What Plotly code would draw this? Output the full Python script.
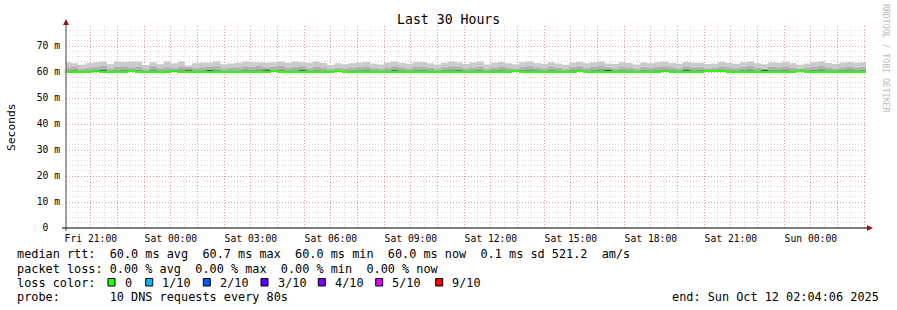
import plotly.graph_objects as go
import pandas as pd

# ---------------- data ----------------
bin_start = "2025-10-10 20:00:00"
n_bins = 113
bin_minutes = 16
range_start = "2025-10-10 20:04:06"
range_end = "2025-10-12 02:04:06"

# light smoke top (ms)
smoke_top = [63.8, 63.4, 62.8, 63.4, 63.8, 64.0, 63.0, 64.0, 63.9, 64.0, 64.0, 62.7, 63.8, 63.0, 64.0, 63.4, 64.0, 62.5, 63.4, 63.7,
             63.7, 64.0, 63.0, 63.3, 63.6, 64.0, 63.8, 63.8, 63.6, 63.8, 64.0, 63.6, 64.0, 63.8, 63.6, 64.0, 63.6, 62.7, 63.4, 63.0,
             63.4, 63.7, 63.9, 63.3, 62.9, 63.7, 64.0, 63.5, 63.2, 63.8, 63.9, 63.4, 62.9, 63.6, 64.0, 63.8, 63.1, 63.7, 64.0, 62.9,
             63.6, 63.9, 63.4, 63.0, 63.8, 64.0, 63.5, 63.2, 63.8, 63.3, 62.8, 63.7, 63.9, 63.4, 63.8, 64.0, 63.3, 63.1, 63.8, 63.5,
             62.9, 63.7, 63.4, 63.8, 64.0, 63.5, 63.2, 63.9, 63.6, 63.6, 63.1, 63.3, 63.9, 63.5, 63.2, 63.8, 64.0, 63.4, 63.0, 63.8,
             63.6, 64.0, 63.4, 62.8, 63.3, 63.8, 64.1, 63.5, 63.1, 63.7, 63.9, 63.6, 63.8]
# mid smoke top (ms)
smoke_mid = [61.6, 62.0, 61.2, 61.5, 61.8, 62.2, 61.3, 61.9, 62.0, 61.6, 61.9, 61.0, 62.2, 61.4, 61.7, 61.5, 62.0, 61.8, 61.4, 61.7,
             61.9, 62.1, 61.3, 61.5, 61.6, 62.0, 61.8, 62.2, 61.6, 61.9, 62.3, 61.5, 61.8, 62.1, 61.4, 61.9, 61.7, 61.2, 61.5, 61.3,
             61.6, 61.8, 62.0, 61.4, 61.2, 61.7, 62.1, 61.6, 61.3, 61.9, 62.0, 61.5, 61.1, 61.7, 62.1, 61.9, 61.3, 61.6, 62.0, 61.2,
             61.7, 62.0, 61.5, 61.2, 61.8, 62.2, 61.6, 61.4, 61.9, 61.5, 61.1, 61.8, 62.0, 61.4, 61.9, 62.2, 61.6, 61.3, 61.8, 61.6,
             61.2, 61.8, 61.5, 61.9, 62.1, 61.7, 61.3, 62.0, 61.6, 61.7, 61.3, 61.5, 62.0, 61.6, 61.4, 61.8, 62.2, 61.5, 61.2, 61.9,
             61.7, 62.1, 61.5, 61.0, 61.5, 61.8, 62.3, 61.6, 61.3, 61.7, 62.0, 61.6, 61.9]
# dark smoke top (ms)
smoke_dark = [60.6, 60.9, 60.4, 60.5, 60.8, 61.0, 60.5, 60.7, 60.9, 60.6, 60.7, 60.4, 61.0, 60.5, 60.6, 60.7, 60.9, 61.1, 60.5, 60.6,
              60.9, 60.8, 60.4, 60.6, 60.5, 60.9, 60.7, 61.0, 61.1, 60.8, 60.9, 60.5, 60.6, 61.0, 60.5, 60.7, 60.6, 60.4, 60.6, 60.5,
              60.6, 60.7, 60.9, 60.5, 60.4, 60.6, 61.0, 60.7, 60.5, 60.8, 60.9, 60.6, 60.4, 60.7, 60.9, 60.8, 60.5, 60.6, 60.9, 60.4,
              60.7, 60.9, 60.6, 60.4, 60.8, 61.0, 60.7, 60.5, 60.8, 60.6, 60.4, 60.7, 60.9, 60.5, 60.8, 61.0, 61.1, 60.5, 60.8, 60.6,
              60.4, 60.7, 60.6, 60.8, 61.0, 60.7, 60.5, 61.1, 60.7, 60.8, 60.5, 60.6, 60.9, 60.7, 60.5, 60.8, 61.0, 60.6, 61.0, 60.8,
              60.7, 61.0, 60.6, 60.5, 60.6, 60.8, 61.1, 60.7, 60.5, 60.8, 60.9, 60.6, 60.8]
# darkest smoke patches (ms; 60.0 = none)
smoke_darkest = [60.0, 60.0, 60.0, 60.0, 60.0, 60.7, 60.0, 60.0, 60.0, 60.0, 60.0, 60.0, 60.0, 60.0, 60.0, 60.0, 60.0, 60.6, 60.0, 60.0,
                 60.8, 60.0, 60.0, 60.0, 60.0, 60.0, 60.0, 60.0, 60.7, 60.0, 60.0, 60.0, 60.0, 60.7, 60.0, 60.0, 60.0, 60.0, 60.0, 60.0,
                 60.0, 60.0, 60.0, 60.0, 60.0, 60.0, 60.6, 60.0, 60.0, 60.0, 60.0, 60.0, 60.0, 60.0, 60.0, 60.6, 60.0, 60.0, 60.0, 60.0,
                 60.0, 60.0, 60.0, 60.0, 60.0, 60.0, 60.0, 60.0, 60.0, 60.0, 60.0, 60.0, 60.0, 60.0, 60.0, 60.0, 60.8, 60.0, 60.0, 60.0,
                 60.0, 60.0, 60.0, 60.0, 60.0, 60.0, 60.0, 60.7, 60.0, 60.0, 60.0, 60.0, 60.0, 60.0, 60.0, 60.0, 60.0, 60.0, 60.8, 60.0,
                 60.0, 60.0, 60.0, 60.5, 60.0, 60.0, 60.0, 60.0, 60.0, 60.0, 60.0, 60.0, 60.0]
# smoke bottom (min rtt, ms)
smoke_min = [60.0] * 103 + [60.3] + [60.0] * 9
# median rtt (ms)
median = [60.0, 60.0, 60.0, 60.0, 60.4, 60.0, 60.0, 60.0, 60.0, 60.4, 60.0, 60.0, 60.0, 60.0, 60.0, 60.4, 60.0, 60.0, 60.0, 60.0,
          60.0, 60.0, 60.0, 60.0, 60.0, 60.0, 60.0, 60.0, 60.0, 60.4, 60.0, 60.0, 60.0, 60.0, 60.0, 60.0, 60.0, 60.0, 60.4, 60.0,
          60.0, 60.0, 60.0, 60.0, 60.0, 60.0, 60.0, 60.0, 60.0, 60.0, 60.0, 60.0, 60.0, 60.0, 60.0, 60.0, 60.0, 60.0, 60.0, 60.0,
          60.0, 60.0, 60.0, 60.4, 60.0, 60.0, 60.0, 60.0, 60.0, 60.0, 60.0, 60.0, 60.4, 60.0, 60.0, 60.0, 60.0, 60.0, 60.0, 60.0,
          60.0, 60.0, 60.0, 60.0, 60.4, 60.0, 60.0, 60.0, 60.0, 60.0, 60.4, 60.4, 60.4, 60.0, 60.0, 60.0, 60.0, 60.0, 60.0, 60.0,
          60.0, 60.0, 60.0, 60.7, 60.0, 60.0, 60.0, 60.0, 60.0, 60.0, 60.0, 60.0, 60.0]
median_halfwidth = 0.38

hour_ticks_start = "2025-10-10 21:00:00"
n_hour_ticks = 30
tick_labels = ["Fri 21:00", "Sat 00:00", "Sat 03:00", "Sat 06:00", "Sat 09:00",
               "Sat 12:00", "Sat 15:00", "Sat 18:00", "Sat 21:00", "Sun 00:00"]
y_tick_vals = [0, 10, 20, 30, 40, 50, 60, 70]
y_tick_text = ["0\u00a0\u00a0", "10\u00a0m", "20\u00a0m", "30\u00a0m", "40\u00a0m", "50\u00a0m", "60\u00a0m", "70\u00a0m"]
y_max = 77.7

title = "Last 30 Hours"
line_rtt = "median rtt:  60.0 ms avg  60.7 ms max  60.0 ms min  60.0 ms now  0.1 ms sd 521.2  am/s"
line_loss = "packet loss: 0.00 % avg  0.00 % max  0.00 % min  0.00 % now"
loss_labels = ["0", "1/10", "2/10", "3/10", "4/10", "5/10", "9/10"]
loss_colors = ["#26ff00", "#00b8ff", "#0059ff", "#5e00ff", "#7e00ff", "#dd00ff", "#ff0000"]
line_probe = "probe:       10 DNS requests every 80s"
end_text = "end: Sun Oct 12 02:04:06 2025"

# ---------------- build ----------------
W, H = 897, 310
L, R, T, B = 66, 866, 26, 228
FONT = "DejaVu Sans Mono"


def px(x):
    return (x - L) / (R - L)


def py(y):
    return (B - y) / (B - T)


times = list(pd.date_range(bin_start, periods=n_bins + 1, freq=f"{bin_minutes}min"))


def ext(v):
    return list(v) + [v[-1]]


fig = go.Figure()


def band(lo, hi, color):
    fig.add_trace(go.Scatter(x=times, y=ext(lo), mode="lines", line=dict(width=0, shape="hv"),
                             hoverinfo="skip", showlegend=False))
    fig.add_trace(go.Scatter(x=times, y=ext(hi), mode="lines", line=dict(width=0, shape="hv"),
                             fill="tonexty", fillcolor=color, hoverinfo="skip", showlegend=False))


band(smoke_min, smoke_top, "#cbcbcb")
band(smoke_min, smoke_mid, "#b0b0b0")
band(smoke_min, smoke_dark, "#939393")
band(smoke_min, smoke_darkest, "#575757")
band([m - median_halfwidth for m in median], [m + median_halfwidth for m in median], "#26ff00")

hour_ticks = list(pd.date_range(hour_ticks_start, periods=n_hour_ticks, freq="1h"))
hour_text = [tick_labels[i // 3] if i % 3 == 0 and i // 3 < len(tick_labels) else "" for i in range(n_hour_ticks)]

major_grid = "rgba(255,0,0,0.28)"
minor_grid = "rgba(150,150,150,0.35)"

fig.update_xaxes(
    range=[range_start, range_end], type="date",
    tickmode="array", tickvals=hour_ticks, ticktext=hour_text,
    showgrid=True, gridcolor=major_grid, griddash="1px,2px", gridwidth=1,
    minor=dict(dtick=30 * 60 * 1000, tick0="2025-10-10 20:30:00", showgrid=True,
               gridcolor=minor_grid, griddash="1px,2px", gridwidth=1),
    showline=False, zeroline=False, ticks="", ticklabelstandoff=3,
    tickfont=dict(family=FONT, size=9.7, color="#000"),
)
fig.update_yaxes(
    range=[0, y_max], tickmode="array", tickvals=y_tick_vals, ticktext=y_tick_text,
    showgrid=True, gridcolor=major_grid, griddash="1px,2px", gridwidth=1,
    minor=dict(dtick=2, tick0=0, showgrid=True, gridcolor=minor_grid, griddash="1px,2px", gridwidth=1),
    showline=False, zeroline=False, ticks="", ticklabelstandoff=5,
    tickfont=dict(family=FONT, size=9.7, color="#000"),
    title=None,
)

shapes = [
    dict(type="line", xref="paper", yref="paper", x0=px(66), x1=px(66), y0=py(231), y1=py(24),
         line=dict(color="#444", width=1)),
    dict(type="line", xref="paper", yref="paper", x0=px(62), x1=px(869), y0=py(228), y1=py(228),
         line=dict(color="#000", width=1)),
    dict(type="path", xref="paper", yref="paper",
         path=f"M {px(63)} {py(25)} L {px(66)} {py(19)} L {px(69)} {py(25)} Z",
         fillcolor="#8b1a1a", line=dict(color="#8b1a1a", width=0)),
    dict(type="path", xref="paper", yref="paper",
         path=f"M {px(867)} {py(225)} L {px(873)} {py(228)} L {px(867)} {py(231)} Z",
         fillcolor="#8b1a1a", line=dict(color="#8b1a1a", width=0)),
]

annotations = [
    dict(text=title, x=px(448), y=py(20), xref="paper", yref="paper", showarrow=False,
         xanchor="center", yanchor="middle", font=dict(family=FONT, size=13.2, color="#000")),
    dict(text="Seconds", x=px(11), y=py(127), xref="paper", yref="paper", showarrow=False,
         textangle=-90, xanchor="center", yanchor="middle", font=dict(family=FONT, size=11.3, color="#000")),
    dict(text="RRDTOOL / TOBI OETIKER", x=px(886), y=py(59), xref="paper", yref="paper", showarrow=False,
         textangle=90, xanchor="center", yanchor="middle", font=dict(family=FONT, size=8.2, color="#bbbbbb")),
]

text_font = dict(family=FONT, size=11.85, color="#000")
x0 = 15
for txt, yy in [(line_rtt, 254.5), (line_loss, 268.5), ("loss color:", 282.5), (line_probe, 296.5)]:
    annotations.append(dict(text=txt.replace(" ", "\u00a0"), x=px(x0), y=py(yy), xref="paper", yref="paper",
                            showarrow=False, xanchor="left", yanchor="middle", font=text_font))
annotations.append(dict(text=end_text.replace(" ", "\u00a0"), x=px(881), y=py(296.5), xref="paper", yref="paper",
                        showarrow=False, xanchor="right", yanchor="middle", font=text_font))

sq_x = [108, 145.7, 203.3, 261, 318.3, 375.7, 435.7]
for lab, col, sx in zip(loss_labels, loss_colors, sq_x):
    shapes.append(dict(type="rect", xref="paper", yref="paper", x0=px(sx), x1=px(sx + 7),
                       y0=py(286), y1=py(278.5), fillcolor=col, line=dict(color="#000", width=1)))
    annotations.append(dict(text=lab, x=px(sx + 14.5), y=py(282.5), xref="paper", yref="paper",
                            showarrow=False, xanchor="left", yanchor="middle", font=text_font))

fig.update_layout(
    width=W, height=H,
    margin=dict(l=L, r=W - R, t=T, b=H - B, pad=0),
    paper_bgcolor="#ffffff", plot_bgcolor="#ffffff",
    showlegend=False, shapes=shapes, annotations=annotations,
)

fig.write_html("out.html")
